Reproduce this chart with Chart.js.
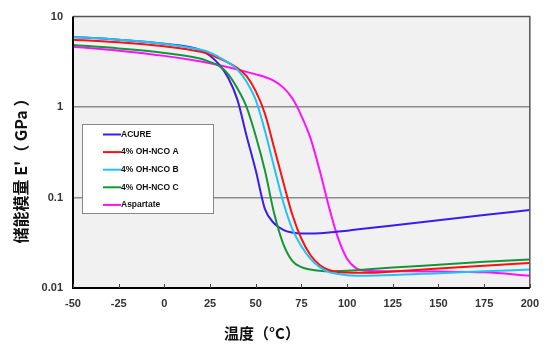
<!DOCTYPE html>
<html>
<head>
<meta charset="utf-8">
<script src="https://cdn.jsdelivr.net/npm/chart.js@4/dist/chart.umd.min.js"></script>
<style>
  html, body { margin: 0; padding: 0; background: #fff; }
  #wrap { width: 548px; height: 346px; }
</style>
</head>
<body>
<div id="wrap"><canvas id="dmaChart" width="548" height="346"></canvas></div>
<script>
// Temperature points (°C) shared by all curves
const temps = [-50, -25, 0, 20, 25, 30, 35, 40, 45, 50, 55, 60, 65, 70, 75, 80, 85, 90, 95, 100, 105, 110, 125, 150, 175, 200];

// Storage modulus E' (GPa)
const acure = [5.95, 5.55, 5.0, 4.25, 3.7, 2.95, 2.1, 1.2, 0.48, 0.2, 0.075, 0.052, 0.044, 0.041, 0.040, 0.040, 0.0403, 0.041, 0.042, 0.043, 0.0443, 0.0455, 0.049, 0.056, 0.064, 0.073];
const ohNcoA = [5.56, 5.2, 4.7, 4.08, 3.8, 3.45, 3.1, 2.7, 2.2, 1.5, 0.85, 0.36, 0.15, 0.065, 0.035, 0.023, 0.018, 0.0158, 0.015, 0.0148, 0.0147, 0.0147, 0.0152, 0.0164, 0.0176, 0.0189];
const ohNcoB = [5.95, 5.55, 5.0, 4.3, 4.0, 3.55, 3.1, 2.6, 1.9, 1.2, 0.55, 0.22, 0.09, 0.045, 0.029, 0.021, 0.017, 0.015, 0.0143, 0.0138, 0.0137, 0.0137, 0.0139, 0.0146, 0.0153, 0.016];
const ohNcoC = [4.86, 4.45, 3.97, 3.42, 3.15, 2.85, 2.3, 1.6, 1.0, 0.48, 0.2, 0.068, 0.031, 0.020, 0.017, 0.016, 0.0155, 0.0153, 0.0154, 0.0155, 0.0157, 0.016, 0.0168, 0.0181, 0.0195, 0.0206];
const aspartate = [4.63, 4.2, 3.68, 3.19, 3.05, 2.9, 2.75, 2.6, 2.45, 2.3, 2.15, 1.95, 1.65, 1.25, 0.8, 0.45, 0.2, 0.08, 0.036, 0.021, 0.0165, 0.0155, 0.0153, 0.0152, 0.0149, 0.0137];

const seriesNames = ['ACURE', '4% OH-NCO A', '4% OH-NCO B', '4% OH-NCO C', 'Aspartate'];
const seriesColors = ['#3a1cf0', '#ff1010', '#20c4f4', '#12973a', '#ff10ff'];
const seriesValues = [acure, ohNcoA, ohNcoB, ohNcoC, aspartate];
const drawOrder = [3, 1, 0, 2, 4]; // lower = on top

const xTicks = [-50, -25, 0, 25, 50, 75, 100, 125, 150, 175, 200];
const yTicks = [0.01, 0.1, 1, 10];
const yTickLabels = ['0.01', '0.1', '1', '10'];

const xTitle = '温度（°C）';
const yTitle = "储能模量 E'（ GPa ）";

const tickFont = { family: 'Arial, "Liberation Sans", sans-serif', size: 11, weight: 'bold' };

// Background, frame, inward ticks, legend and axis titles
const decorPlugin = {
    id: 'decor',
    beforeDraw(chart) {
        const { ctx, chartArea: a } = chart;
        ctx.save();
        ctx.fillStyle = '#ffffff';
        ctx.fillRect(0, 0, chart.width, chart.height);
        ctx.fillStyle = '#f1f1f1';
        ctx.fillRect(a.left, a.top, a.right - a.left, a.bottom - a.top);
        ctx.restore();
    },
    afterDatasetsDraw(chart) {
        const { ctx, chartArea: a } = chart;
        ctx.save();

        // top & right border
        ctx.strokeStyle = '#555';
        ctx.lineWidth = 1.5;
        ctx.beginPath();
        ctx.moveTo(a.left, a.top);
        ctx.lineTo(a.right, a.top);
        ctx.lineTo(a.right, a.bottom);
        ctx.stroke();

        // left & bottom axis
        ctx.strokeStyle = '#000';
        ctx.lineWidth = 2;
        ctx.beginPath();
        ctx.moveTo(a.left, a.top);
        ctx.lineTo(a.left, a.bottom);
        ctx.lineTo(a.right, a.bottom);
        ctx.stroke();

        // inward x ticks
        const xs = chart.scales.x;
        ctx.strokeStyle = '#444';
        ctx.lineWidth = 1;
        xs.ticks.forEach(t => {
            const px = Math.round(xs.getPixelForValue(t.value)) + 0.5;
            ctx.beginPath();
            ctx.moveTo(px, a.bottom);
            ctx.lineTo(px, a.bottom - 4);
            ctx.stroke();
        });

        // legend
        const lx = 82, ly = 124, lw = 131, lh = 89;
        ctx.fillStyle = '#fff';
        ctx.fillRect(lx, ly, lw, lh);
        ctx.strokeStyle = '#888';
        ctx.lineWidth = 1;
        ctx.strokeRect(lx + 0.5, ly + 0.5, lw, lh);
        ctx.font = 'bold 8.5px Arial, "Liberation Sans", sans-serif';
        ctx.textBaseline = 'middle';
        chart.data.datasets.forEach((ds, i) => {
            const y = 134.5 + i * 17.6;
            ctx.strokeStyle = ds.borderColor;
            ctx.lineWidth = 2;
            ctx.beginPath();
            ctx.moveTo(103, y);
            ctx.lineTo(121, y);
            ctx.stroke();
            ctx.fillStyle = '#111';
            ctx.fillText(ds.label, 121, y);
        });

        // axis titles
        ctx.fillStyle = '#111';
        ctx.font = 'bold 15px "Noto Sans CJK SC", sans-serif';
        ctx.textAlign = 'center';
        ctx.textBaseline = 'middle';
        ctx.fillText(xTitle, 262, 333);
        ctx.font = 'bold 16px "Noto Sans CJK SC", sans-serif';
        ctx.translate(21, 167);
        ctx.rotate(-Math.PI / 2);
        ctx.fillText(yTitle, 0, 0);
        ctx.restore();
    }
};

function buildDatasets() {
    return seriesNames.map((name, i) => ({
        label: name,
        data: temps.map((t, k) => ({ x: t, y: seriesValues[i][k] })),
        borderColor: seriesColors[i],
        backgroundColor: seriesColors[i],
        borderWidth: 2,
        pointRadius: 0,
        cubicInterpolationMode: 'monotone',
        order: drawOrder[i],
        fill: false
    }));
}

window.onload = function () {
    const ctx = document.getElementById('dmaChart').getContext('2d');
    new Chart(ctx, {
        type: 'line',
        data: { datasets: buildDatasets() },
        options: {
            responsive: false,
            animation: false,
            devicePixelRatio: 1,
            layout: { padding: { left: 0, top: 15, right: 18, bottom: 0 } },
            plugins: {
                legend: { display: false },
                tooltip: { enabled: false }
            },
            scales: {
                x: {
                    type: 'linear',
                    min: -50,
                    max: 200,
                    afterBuildTicks: s => { s.ticks = xTicks.map(v => ({ value: v })); },
                    ticks: { font: tickFont, color: '#333', padding: 9, maxRotation: 0 },
                    grid: { display: false, drawTicks: false },
                    border: { display: false },
                    afterFit: s => { s.height = 58; }
                },
                y: {
                    type: 'logarithmic',
                    min: 0.01,
                    max: 10,
                    afterBuildTicks: s => { s.ticks = yTicks.map(v => ({ value: v })); },
                    ticks: {
                        font: tickFont,
                        color: '#333',
                        padding: 10,
                        callback: (v) => yTickLabels[yTicks.indexOf(v)]
                    },
                    grid: {
                        drawTicks: false,
                        lineWidth: 1.5,
                        color: c => (c.tick && (c.tick.value === 1 || c.tick.value === 0.1)) ? '#8c8c8c' : 'rgba(0,0,0,0)'
                    },
                    border: { display: false },
                    afterFit: s => { s.width = 73; }
                }
            }
        },
        plugins: [decorPlugin]
    });
};
</script>
</body>
</html>
